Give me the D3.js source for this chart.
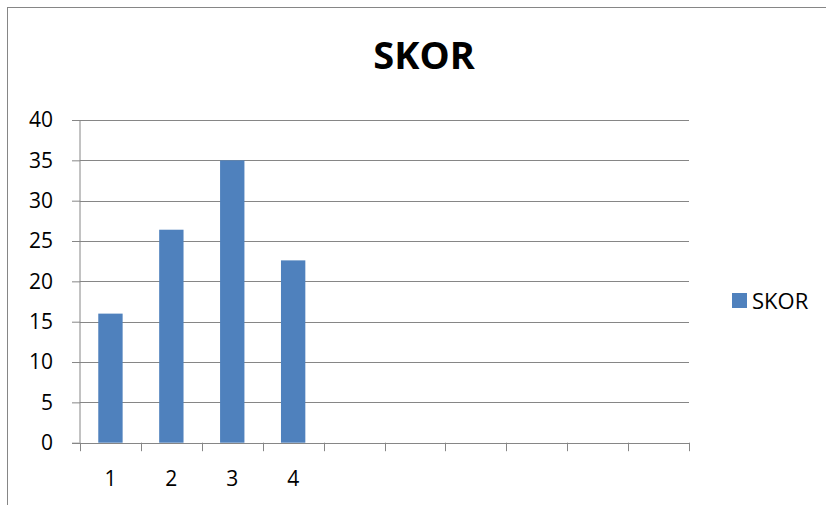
<!DOCTYPE html>
<html>
<head>
<meta charset="utf-8">
<script src="https://cdn.jsdelivr.net/npm/d3@7"></script>
<style>
  body { margin: 0; background: #fff; }
  svg { display: block; }
  text { font-family: "Open Sans", "Liberation Sans", sans-serif; fill: #000; }
</style>
</head>
<body>
<svg id="chart" width="826" height="505"></svg>
<script>
const title = "SKOR";
const seriesName = "SKOR";
const categories = ["1", "2", "3", "4", "", "", "", "", "", ""];
const values = [16, 26.4, 35, 22.6, null, null, null, null, null, null];
const yTicks = [0, 5, 10, 15, 20, 25, 30, 35, 40];

const svg = d3.select("#chart");
const W = 826, H = 505;
const plot = { left: 80, right: 689, top: 120, bottom: 442.7 };
const gridColor = "#868686";
const barColor = "#4F81BD";

// outer border
svg.append("rect")
  .attr("x", 7.5).attr("y", 7.5)
  .attr("width", W + 20).attr("height", H + 20)
  .attr("fill", "#fff").attr("stroke", "#868686").attr("stroke-width", 1);

const x = d3.scaleBand()
  .domain(d3.range(categories.length))
  .range([plot.left, plot.right])
  .paddingInner(0.6).paddingOuter(0.3);

const xEdges = d3.scaleLinear().domain([0, categories.length]).range([plot.left, plot.right]);

const y = d3.scaleLinear().domain([0, 40]).range([plot.bottom, plot.top]);

// gridlines + y ticks
const yAxis = d3.axisLeft(y).tickValues(yTicks).tickSize(8).tickPadding(19).tickFormat(d3.format("d"));
const gy = svg.append("g").attr("transform", `translate(${plot.left},0)`).call(yAxis);
gy.select(".domain").attr("stroke", gridColor).attr("d", `M0,${plot.top}V${plot.bottom}`);
gy.selectAll(".tick line").attr("stroke", gridColor);
gy.selectAll(".tick text").attr("font-size", 21).attr("fill", "#000")
  .attr("font-family", "'Open Sans', sans-serif");

svg.append("g").selectAll("line.grid")
  .data(yTicks.filter(d => d > 0))
  .join("line")
  .attr("x1", plot.left).attr("x2", plot.right)
  .attr("y1", d => Math.round(y(d)) + 0.5).attr("y2", d => Math.round(y(d)) + 0.5)
  .attr("stroke", gridColor).attr("stroke-width", 1);

// bars
svg.append("g").selectAll("rect.bar")
  .data(values.map((v, i) => ({ i, v })).filter(d => d.v != null))
  .join("rect")
  .attr("x", d => x(d.i))
  .attr("width", x.bandwidth())
  .attr("y", d => y(d.v))
  .attr("height", d => y(0) - y(d.v))
  .attr("fill", barColor);

// x axis
const xAxisG = svg.append("g");
xAxisG.append("line")
  .attr("x1", plot.left - 8).attr("x2", plot.right)
  .attr("y1", Math.round(plot.bottom) + 0.5).attr("y2", Math.round(plot.bottom) + 0.5)
  .attr("stroke", gridColor);
xAxisG.selectAll("line.xt")
  .data(d3.range(categories.length + 1))
  .join("line")
  .attr("x1", d => Math.round(xEdges(d)) + 0.5).attr("x2", d => Math.round(xEdges(d)) + 0.5)
  .attr("y1", plot.bottom).attr("y2", plot.bottom + 8.5)
  .attr("stroke", gridColor);
xAxisG.selectAll("text")
  .data(categories.map((c, i) => ({ c, i })).filter(d => d.c !== ""))
  .join("text")
  .attr("x", d => x(d.i) + x.bandwidth() / 2)
  .attr("y", 486)
  .attr("text-anchor", "middle")
  .attr("font-size", 21)
  .text(d => d.c);

// title
svg.append("text")
  .attr("x", 424).attr("y", 68.5)
  .attr("text-anchor", "middle")
  .attr("font-size", 38).attr("font-weight", "bold")
  .text(title);

// legend
svg.append("rect").attr("x", 732).attr("y", 293).attr("width", 15).attr("height", 15).attr("fill", barColor);
svg.append("text").attr("x", 752).attr("y", 308.5).attr("font-size", 22).text(seriesName);
</script>
</body>
</html>
